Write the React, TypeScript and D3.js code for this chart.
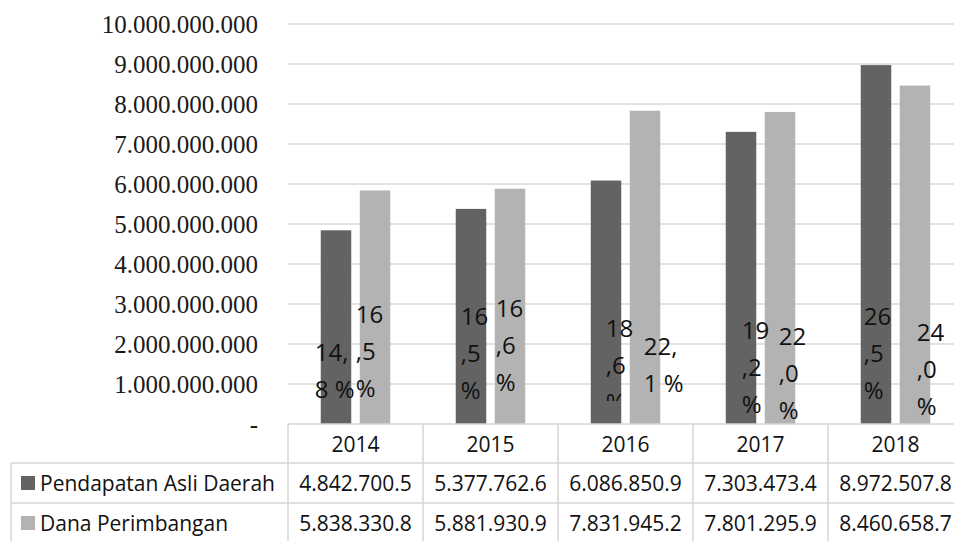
import React, { useEffect, useRef } from 'react';
import * as d3 from 'd3';

// chart data
const years = ['2014', '2015', '2016', '2017', '2018'];
const seriesNames = ['Pendapatan Asli Daerah', 'Dana Perimbangan'];
const padValues = [4842700500, 5377762600, 6086850900, 7303473400, 8972507800];
const dpValues = [5838330800, 5881930900, 7831945200, 7801295900, 8460658700];
// growth labels, already wrapped the way the source shows them
const padPctLines = [['14,', '8 %'], ['16', ',5', '%'], ['18', ',6', '%'], ['19', ',2', '%'], ['26', ',5', '%']];
const dpPctLines = [['16', ',5', '%'], ['16', ',6', '%'], ['22,', '1 %'], ['22', ',0', '%'], ['24', ',0', '%']];
const yTicks = d3.range(0, 10000000001, 1000000000);

// label placement (first line anchor in axis units, x nudge from bar left)
const padLabelAt = [1.8e9, 2.68e9, 2.38e9, 2.35e9, 2.68e9];
const dpLabelAt = [2.73e9, 2.9e9, 1.93e9, 2.18e9, 2.28e9];
const padLabelDx = [-6, 5, 15, 16, 3];
const dpLabelDx = [-4, 1, 14, 14, 17];

const colors = ['#636363', '#b3b3b3'];

const App = () => {
  const ref = useRef(null);

  useEffect(() => {
    const svg = d3.select(ref.current);
    svg.selectAll('*').remove();

    const W = 954, H = 541;
    const left = 288, colW = 135;
    const top = 24, zero = 424;
    const rowH = 40;

    const x = d3.scaleBand().domain(years).range([left, left + colW * years.length]).padding(0);
    const x1 = d3.scaleBand().domain(seriesNames).range([0, colW]).paddingInner(0.218).paddingOuter(0.84);
    const y = d3.scaleLinear().domain([0, 10000000000]).range([zero, top]);

    svg.append('rect').attr('width', W).attr('height', H).attr('fill', '#fff');

    // gridlines
    svg.append('g')
      .selectAll('line')
      .data(yTicks.filter(d => d > 0))
      .enter().append('line')
      .attr('x1', left).attr('x2', W)
      .attr('y1', d => y(d)).attr('y2', d => y(d))
      .attr('stroke', '#d9d9d9').attr('stroke-width', 1.5);

    // y labels
    const fmt = d3.formatLocale({ decimal: ',', thousands: '.', grouping: [3], currency: ['', ''] }).format(',');
    svg.append('g')
      .selectAll('text')
      .data(yTicks)
      .enter().append('text')
      .attr('x', 258).attr('y', d => y(d)).attr('dy', '0.35em')
      .attr('text-anchor', 'end')
      .style('font-family', '"Liberation Serif", serif').style('font-size', '25px')
      .attr('fill', '#1a1a1a')
      .text(d => (d === 0 ? '-' : fmt(d)));

    // bars
    const series = [padValues, dpValues];
    series.forEach((vals, si) => {
      svg.append('g')
        .selectAll('rect')
        .data(vals)
        .enter().append('rect')
        .attr('x', (d, i) => x(years[i]) + x1(seriesNames[si]))
        .attr('y', d => y(d))
        .attr('width', x1.bandwidth())
        .attr('height', d => zero - y(d))
        .attr('fill', colors[si]);
    });

    // percentage labels
    const defs = svg.append('defs');
    defs.append('clipPath').attr('id', 'cut16')
      .append('rect').attr('x', 0).attr('y', 0).attr('width', W).attr('height', 401);
    const lblGroups = [
      { lines: padPctLines, at: padLabelAt, dx: padLabelDx, s: 0 },
      { lines: dpPctLines, at: dpLabelAt, dx: dpLabelDx, s: 1 },
    ];
    lblGroups.forEach(gp => {
      gp.lines.forEach((ls, i) => {
        const t = svg.append('text')
          .style('font-family', '"Open Sans", sans-serif').style('font-size', '24px')
          .attr('fill', '#111');
        if (gp.s === 0 && i === 2) t.attr('clip-path', 'url(#cut16)');
        const bx = x(years[i]) + x1(seriesNames[gp.s]) + gp.dx[i];
        ls.forEach((s, k) => {
          t.append('tspan')
            .attr('x', bx)
            .attr('y', y(gp.at[i]) + k * 37)
            .attr('dy', '0.36em')
            .text(s);
        });
      });
    });

    // data table
    const tb = svg.append('g');
    const tc = '#d6d6d6';
    const right = left + colW * years.length;
    const tableLine = (x1v, y1v, x2v, y2v) => tb.append('line')
      .attr('x1', x1v).attr('y1', y1v).attr('x2', x2v).attr('y2', y2v)
      .attr('stroke', tc).attr('stroke-width', 1.5);
    tableLine(left, zero, right, zero);
    tableLine(11, zero + rowH - 1, right, zero + rowH - 1);
    tableLine(11, zero + rowH * 2 - 1, right, zero + rowH * 2 - 1);
    tableLine(11, zero + rowH - 1, 11, H);
    years.forEach(yr => tableLine(x(yr), zero, x(yr), H));
    tableLine(right, zero, right, H);

    const cellFont = t => t.style('font-family', '"Open Sans", sans-serif').style('font-size', '21px').attr('fill', '#111');
    tb.selectAll('.yr')
      .data(years)
      .enter().append('text')
      .attr('class', 'yr')
      .attr('x', d => x(d) + colW / 2).attr('y', zero + rowH / 2).attr('dy', '0.36em')
      .attr('text-anchor', 'middle')
      .call(cellFont)
      .text(d => d);

    // cells show the number cut at the column edge
    const cellText = v => fmt(v).slice(0, 11);
    series.forEach((vals, si) => {
      const cy = zero + rowH * (si + 1) + rowH / 2 - 1;
      tb.append('rect')
        .attr('x', 21).attr('y', cy - 7).attr('width', 14).attr('height', 14)
        .attr('fill', colors[si]);
      tb.append('text')
        .attr('x', 40).attr('y', cy).attr('dy', '0.36em')
        .call(cellFont)
        .text(seriesNames[si]);
      tb.append('g').selectAll('text')
        .data(vals)
        .enter().append('text')
        .attr('x', (d, i) => x(years[i]) + colW / 2).attr('y', cy).attr('dy', '0.36em')
        .attr('text-anchor', 'middle')
        .call(cellFont)
        .text(d => cellText(d));
    });
  }, []);

  return (
    <svg ref={ref} width={954} height={541}
      style={{ position: 'absolute', left: 0, top: 0, display: 'block' }} />
  );
};

export default App;
